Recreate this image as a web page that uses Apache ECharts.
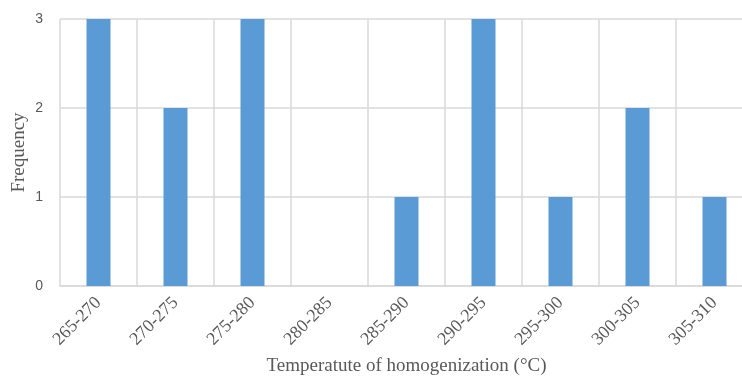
<!DOCTYPE html>
<html>
<head>
<meta charset="utf-8">
<script src="https://cdn.jsdelivr.net/npm/echarts@6/dist/echarts.min.js"></script>
<style>
  html, body { margin: 0; padding: 0; background: #fff; overflow: hidden; width: 742px; height: 380px; }
  /* the plot runs slightly past the right edge of the window */
  #chart { width: 760px; height: 380px; }
</style>
</head>
<body>
<div id="chart"></div>
<script>
// Temperature bins (°C) and how many inclusions fall in each
const categories = ['265-270', '270-275', '275-280', '280-285', '285-290', '290-295', '295-300', '300-305', '305-310'];
const frequency = [3, 2, 3, 0, 1, 3, 1, 2, 1];
const yTicks = [0, 1, 2, 3];

const serif = '"Liberation Serif", "DejaVu Serif", serif';
const sans = '"Liberation Sans", "DejaVu Sans", sans-serif';
const gridColor = '#d9d9d9';
const textColor = '#595959';

const chart = echarts.init(document.getElementById('chart'), null, { renderer: 'canvas' });
chart.setOption({
  animation: false,
  backgroundColor: '#ffffff',
  grid: { left: 60, top: 19, right: 7, bottom: 94, containLabel: false, outerBoundsMode: 'none' },
  xAxis: {
    type: 'category',
    data: categories,
    boundaryGap: true,
    name: 'Temperatute of homogenization (°C)',
    nameLocation: 'middle',
    nameGap: 71,
    nameMoveOverlap: false,
    nameTextStyle: { fontFamily: serif, fontSize: 19, color: textColor },
    axisLine: { show: true, lineStyle: { color: gridColor, width: 1.5 } },
    axisTick: { show: false },
    splitLine: { show: true, lineStyle: { color: gridColor, width: 1.5 } },
    axisLabel: { rotate: 45, margin: 14, fontFamily: serif, fontSize: 18, color: textColor, interval: 0 }
  },
  yAxis: {
    type: 'value',
    min: yTicks[0],
    max: yTicks[yTicks.length - 1],
    interval: 1,
    name: 'Frequency',
    nameLocation: 'middle',
    nameGap: 31,
    nameMoveOverlap: false,
    nameTextStyle: { fontFamily: serif, fontSize: 19, color: textColor },
    axisLine: { show: false },
    axisTick: { show: false },
    splitLine: { show: true, lineStyle: { color: gridColor, width: 1.5 } },
    axisLabel: { margin: 17, fontFamily: sans, fontSize: 14, color: textColor }
  },
  series: [{
    type: 'bar',
    data: frequency,
    barWidth: 24,
    itemStyle: { color: '#5b9bd5' }
  }]
});
</script>
</body>
</html>
